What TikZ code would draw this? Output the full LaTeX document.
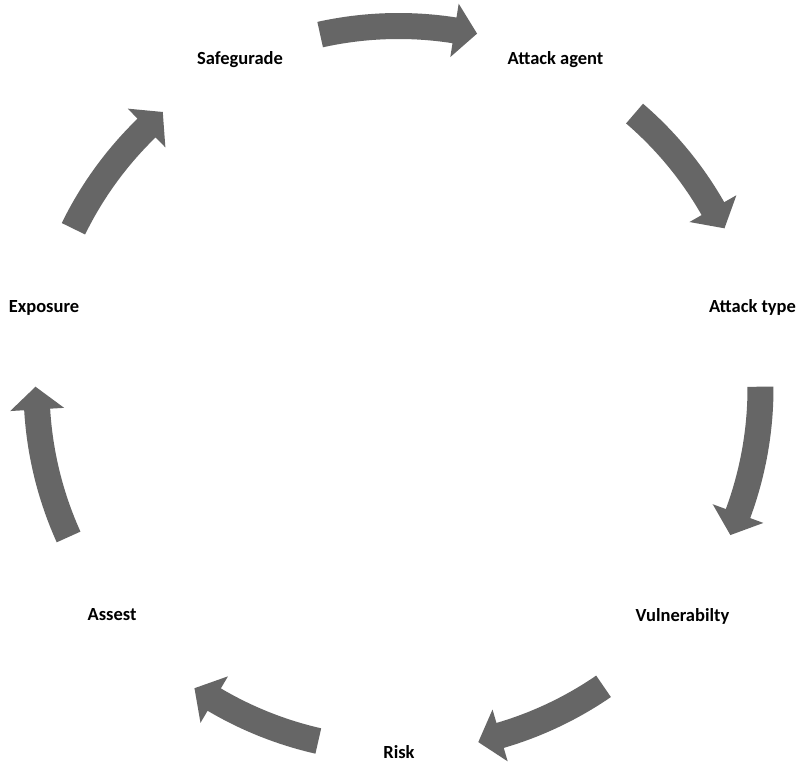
\documentclass[tikz,border=0pt]{standalone}
\usepackage{fontspec}
\setmainfont{Carlito}
\definecolor{arrowgray}{RGB}{102,102,102}
\tikzset{
  lbl/.style={font=\bfseries\fontsize{18.5}{22}\selectfont, text=black, anchor=base, inner sep=0pt},
  arrowfill/.style={fill=arrowgray}
}
\newcommand{\blockarc}[2]{%
  \pgfmathsetmacro\hb{#2+3.6*sign(#1-#2)}%
  \fill[arrowfill] (#1:375pt) arc[start angle=#1, end angle=\hb, radius=375pt]
    -- (\hb:389pt) -- (#2:363pt) -- (\hb:335pt) -- (\hb:349pt)
    arc[start angle=\hb, end angle=#1, radius=349pt] -- cycle;}
\begin{document}
\begin{tikzpicture}[x=1pt,y=1pt]
\useasboundingbox (0,0) rectangle (803,763);
\fill[white] (0,0) rectangle (803,763);
\begin{scope}[shift={(398.5,375)}]
  \blockarc{102.5}{77.5}
  \blockarc{49.3}{26.1}
  \blockarc{0.2}{-23.9}
  \blockarc{-55.5}{-77.3}
  \blockarc{-102.8}{-124.2}
  \blockarc{-155.7}{-180.2}
  \blockarc{153.9}{130.5}
\end{scope}
\node[lbl] (safe) at (240,698) {Safegurade};
\node[lbl] (agent) at (555.5,698) {Attack agent};
\node[lbl] (type) at (752.5,450.3) {Attack type};
\node[lbl] (vuln) at (682.5,141.3) {Vulnerabilty};
\node[lbl] (risk) at (399,5) {Risk};
\node[lbl] (asset) at (112,142) {Assest};
\node[lbl] (expo) at (44,450.3) {Exposure};
\end{tikzpicture}
\end{document}
